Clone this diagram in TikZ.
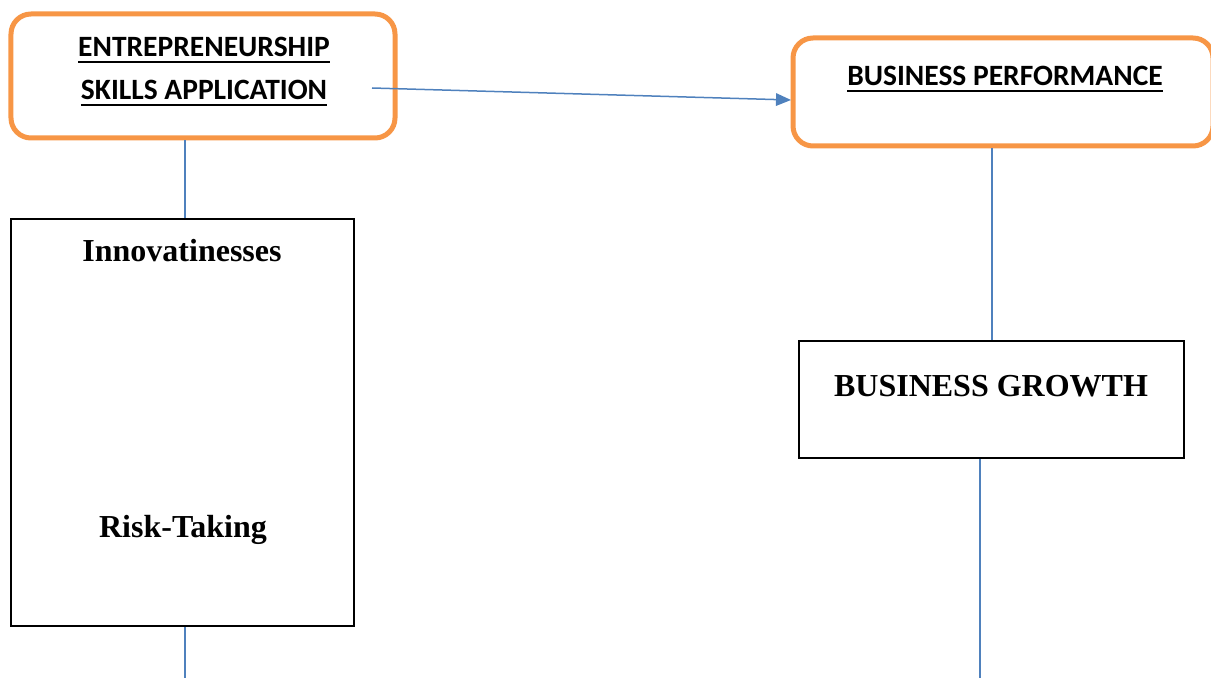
\documentclass[tikz,border=0pt]{standalone}
\usepackage{fontspec}
\setmainfont{Liberation Serif}
\newfontfamily\calibrifont{Carlito}
\definecolor{boxorange}{RGB}{247,150,70}
\definecolor{linkblue}{RGB}{79,129,189}
\usetikzlibrary{arrows.meta,positioning}
\newcommand\headul[1]{\setbox0\hbox{#1}\rlap{\rule[-2.6pt]{\wd0}{0.9pt}}\box0}

\begin{document}
\begin{tikzpicture}[x=0.4pt, y=-0.4pt,
    roundbox/.style={rectangle, rounded corners=8pt, draw=boxorange, line width=2pt},
    plainbox/.style={rectangle, draw=black, line width=1pt},
    headtext/.style={inner sep=0pt, align=center, font=\calibrifont\bfseries\fontsize{11.8}{17.2}\selectfont},
    itemtext/.style={inner sep=0pt, align=center, font=\bfseries\fontsize{12.8}{15}\selectfont},
    link/.style={linkblue, line width=0.6pt},
    arr/.style={-{Triangle[length=6pt, width=5pt]}, linkblue, line width=0.6pt}
  ]
    \useasboundingbox (0,0) rectangle (1211,678);

    % Top row: skills and performance
    \node[roundbox, minimum width=153.6pt, minimum height=49.6pt] (skills) at (203,76) {};
    \node[headtext] (skillsText) at (204,72) {\headul{ENTREPRENEURSHIP}\\\headul{SKILLS APPLICATION}};
    \node[roundbox, minimum width=168pt, minimum height=43.2pt] (perf) at (1003,92) {};
    \node[headtext] (perfText) at (1005,79) {\headul{BUSINESS PERFORMANCE}};

    % Left: skill dimensions
    \node[plainbox, minimum width=137.2pt, minimum height=162.8pt] (innov) at (182.5,422.5) {};
    \node[itemtext] (innovText) at (182,251) {Innovatinesses};
    \node[itemtext] (riskText) at (183,530) {Risk-Taking};

    % Right: growth
    \node[plainbox, minimum width=154pt, minimum height=46.8pt] (growth) at (991.5,399.5) {};
    \node[itemtext] (growthText) at (991,386) {BUSINESS GROWTH};

    \coordinate (arrStart) at (372,88);
    \coordinate (perfIn) at (791,100);
    \coordinate (leftEnd) at (185,678);
    \coordinate (rightEnd) at (980,678);
    \coordinate (rightTop) at (992,0);

    \draw[arr] (arrStart) -- (perfIn);
    \draw[link] (leftEnd |- skills.south) -- (leftEnd |- innov.north);
    \draw[link] (leftEnd |- innov.south) -- (leftEnd);
    \draw[link] (rightTop |- perf.south) -- (rightTop |- growth.north);
    \draw[link] (rightEnd |- growth.south) -- (rightEnd);
  \end{tikzpicture}
\end{document}
